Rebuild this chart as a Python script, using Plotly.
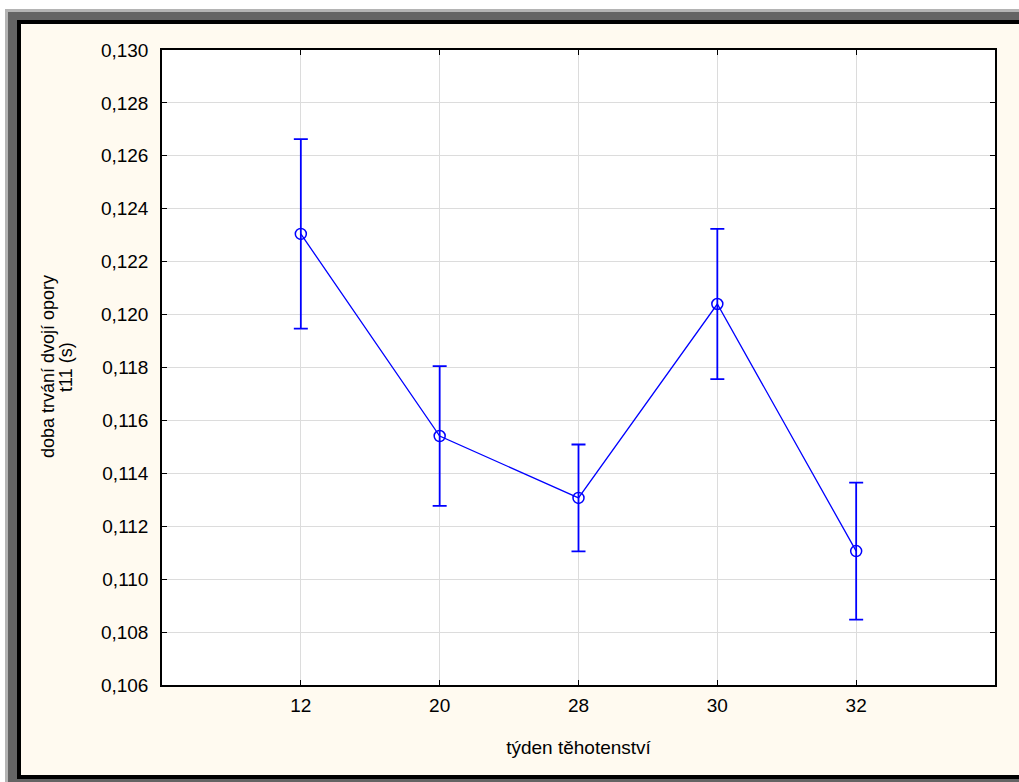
import plotly.graph_objects as go

# Data
weeks = ["12", "20", "28", "30", "32"]
means = [0.12305, 0.11541, 0.11307, 0.12040, 0.11106]
errors = [0.00358, 0.00264, 0.00202, 0.00284, 0.00259]
y_ticks = [0.106, 0.108, 0.110, 0.112, 0.114, 0.116, 0.118, 0.120, 0.122, 0.124, 0.126, 0.128, 0.130]
y_tick_text = ["0,106", "0,108", "0,110", "0,112", "0,114", "0,116", "0,118", "0,120",
               "0,122", "0,124", "0,126", "0,128", "0,130"]
x_title = "týden těhotenství"
y_title_lines = ["doba trvání dvojí opory", "t11 (s)"]

W, H = 1019, 782
L, R, T, B = 162, 995, 50, 685
FONT = "Liberation Sans, Arial, sans-serif"


def px(x):
    return (x - L) / (R - L)


def py(y):
    return (B - y) / (B - T)


fig = go.Figure()
fig.add_trace(go.Scatter(
    x=weeks, y=means,
    mode="lines+markers",
    line=dict(color="#0000ff", width=1.3),
    marker=dict(symbol="circle-open", size=11, color="#0000ff", line=dict(width=1.5, color="#0000ff")),
    error_y=dict(type="data", array=errors, visible=True, color="#0000ff", thickness=1.8, width=7),
    showlegend=False,
))

shapes = []


def rect(x0, y0, x1, y1, color):
    shapes.append(dict(type="rect", xref="paper", yref="paper",
                       x0=px(x0), x1=px(x1), y0=py(y1), y1=py(y0),
                       fillcolor=color, line=dict(width=0), layer="below"))


rect(5, 9, 1019, 782, "#b4b4b4")
rect(8, 12, 1019, 782, "#646464")
rect(17, 20, 1019, 779, "#000000")
rect(21, 24, 1019, 775, "#fffaf0")
# plot area background
rect(L, T, R, B, "#ffffff")

annotations = []
for line, xc in zip(y_title_lines, [48, 66]):
    annotations.append(dict(text=line, xref="paper", yref="paper", x=px(xc), y=py(367),
                            xanchor="center", yanchor="middle", textangle=-90, showarrow=False,
                            font=dict(family=FONT, size=18, color="#000000")))

fig.update_layout(
    width=W, height=H,
    margin=dict(l=L, r=W - R, t=T, b=H - B, pad=0),
    paper_bgcolor="#ffffff",
    plot_bgcolor="rgba(0,0,0,0)",
    shapes=shapes,
    annotations=annotations,
    font=dict(family=FONT, size=19, color="#000000"),
    xaxis=dict(
        type="category", range=[-1, 5],
        showgrid=True, gridcolor="#dcdcdc", gridwidth=1,
        showline=True, linecolor="#000000", linewidth=1.5, mirror="ticks",
        ticks="inside", ticklen=5, tickcolor="#000000", tickwidth=1,
        tickfont=dict(family=FONT, size=19),
        ticklabelstandoff=2,
        title=dict(text=x_title, font=dict(family=FONT, size=19), standoff=26),
        zeroline=False,
    ),
    yaxis=dict(
        range=[0.106, 0.130],
        tickvals=y_ticks, ticktext=y_tick_text,
        showgrid=True, gridcolor="#dcdcdc", gridwidth=1,
        showline=True, linecolor="#000000", linewidth=1.5, mirror="ticks",
        ticks="inside", ticklen=5, tickcolor="#000000", tickwidth=1,
        tickfont=dict(family=FONT, size=19),
        ticklabelstandoff=8,
        zeroline=False,
    ),
)

fig.write_html("out.html",
               config={"displayModeBar": False},
               post_script="document.body.style.margin='0';document.body.style.overflow='hidden';")
